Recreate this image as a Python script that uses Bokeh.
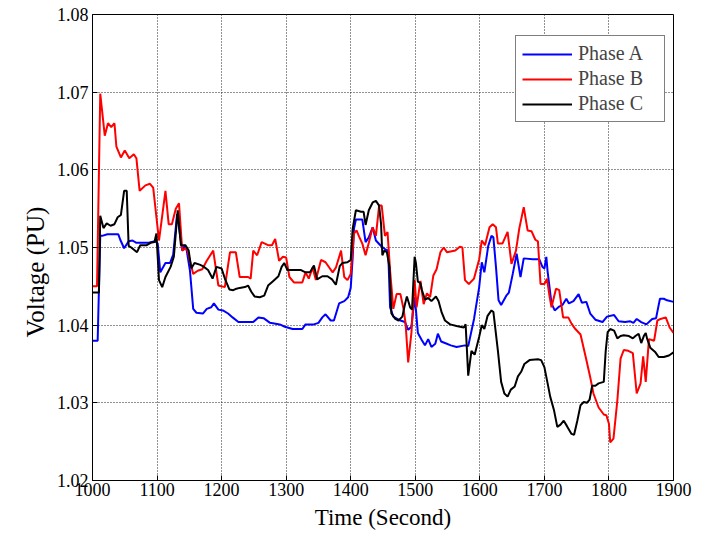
from bokeh.plotting import figure
from bokeh.models import (Range1d, FixedTicker, PrintfTickFormatter, Legend, LegendItem, Title)
from bokeh.embed import file_html
from bokeh.resources import INLINE

# ---------------- data ----------------
time_a = [1000, 1008, 1012, 1015, 1023, 1040, 1043, 1049, 1056, 1062, 1068, 1087, 1097, 1101,
          1105, 1113, 1120, 1125, 1131, 1139, 1143, 1146, 1151, 1156, 1161, 1171, 1177, 1184,
          1188, 1195, 1202, 1210, 1217, 1226, 1249, 1257, 1265, 1275, 1290, 1298, 1302, 1310,
          1325, 1330, 1343, 1350, 1356, 1361, 1369, 1374, 1382, 1390, 1396, 1400, 1403, 1405,
          1408, 1418, 1423, 1428, 1434, 1439, 1447, 1453, 1458, 1461, 1466, 1477, 1484, 1489,
          1494, 1499, 1501, 1504, 1510, 1515, 1520, 1525, 1531, 1535, 1540, 1546, 1555, 1564,
          1577, 1582, 1591, 1599, 1603, 1607, 1613, 1618, 1621, 1625, 1629, 1633, 1641, 1645,
          1651, 1657, 1663, 1668, 1682, 1692, 1697, 1700, 1703, 1705, 1711, 1716, 1723, 1728,
          1734, 1738, 1745, 1753, 1758, 1765, 1771, 1779, 1790, 1797, 1808, 1815, 1825, 1833,
          1838, 1843, 1850, 1858, 1867, 1873, 1879, 1885, 1890, 1900]
volt_a = [1.0380, 1.0380, 1.0515, 1.0515, 1.0517, 1.0517, 1.0510, 1.0499, 1.0508, 1.0509, 1.0506,
          1.0506, 1.0508, 1.0505, 1.0468, 1.0480, 1.0480, 1.0491, 1.0543, 1.0496, 1.0503, 1.0496,
          1.0470, 1.0421, 1.0416, 1.0415, 1.0421, 1.0423, 1.0428, 1.0420, 1.0419, 1.0415, 1.0410,
          1.0404, 1.0404, 1.0410, 1.0409, 1.0403, 1.0401, 1.0398, 1.0397, 1.0395, 1.0395, 1.0401,
          1.0401, 1.0403, 1.0410, 1.0414, 1.0406, 1.0406, 1.0428, 1.0431, 1.0436, 1.0448, 1.0487,
          1.0524, 1.0536, 1.0536, 1.0507, 1.0513, 1.0526, 1.0509, 1.0502, 1.0498, 1.0496, 1.0423,
          1.0411, 1.0406, 1.0404, 1.0394, 1.0398, 1.0436, 1.0420, 1.0390, 1.0381, 1.0374, 1.0382,
          1.0372, 1.0376, 1.0389, 1.0379, 1.0377, 1.0374, 1.0372, 1.0374, 1.0373, 1.0408, 1.0449,
          1.0481, 1.0468, 1.0502, 1.0515, 1.0513, 1.0475, 1.0432, 1.0426, 1.0438, 1.0442, 1.0466,
          1.0492, 1.0462, 1.0486, 1.0485, 1.0485, 1.0475, 1.0473, 1.0488, 1.0469, 1.0428, 1.0419,
          1.0424, 1.0426, 1.0434, 1.0428, 1.0431, 1.0440, 1.0429, 1.0430, 1.0415, 1.0407, 1.0404,
          1.0411, 1.0413, 1.0405, 1.0404, 1.0405, 1.0403, 1.0408, 1.0404, 1.0401, 1.0408, 1.0409,
          1.0434, 1.0434, 1.0432, 1.0430]

time_b = [1000, 1007, 1012, 1019, 1024, 1029, 1034, 1037, 1044, 1050, 1057, 1064, 1068, 1073,
          1082, 1089, 1094, 1103, 1113, 1118, 1123, 1129, 1134, 1139, 1146, 1156, 1163, 1170,
          1177, 1187, 1195, 1205, 1213, 1222, 1228, 1241, 1245, 1249, 1255, 1262, 1272, 1278,
          1283, 1289, 1295, 1300, 1305, 1312, 1325, 1330, 1335, 1341, 1346, 1354, 1361, 1372,
          1377, 1385, 1390, 1395, 1400, 1405, 1409, 1413, 1418, 1423, 1428, 1434, 1439, 1444,
          1448, 1453, 1457, 1461, 1466, 1471, 1477, 1482, 1485, 1489, 1494, 1499, 1502, 1508,
          1513, 1518, 1523, 1528, 1533, 1539, 1544, 1549, 1562, 1569, 1573, 1577, 1583, 1591,
          1599, 1603, 1608, 1615, 1620, 1625, 1628, 1635, 1643, 1649, 1656, 1661, 1668, 1674,
          1680, 1686, 1690, 1694, 1700, 1704, 1708, 1711, 1718, 1723, 1729, 1737, 1742, 1748,
          1756, 1764, 1771, 1776, 1784, 1792, 1796, 1800, 1802, 1807, 1813, 1818, 1823, 1830,
          1837, 1843, 1849, 1853, 1857, 1862, 1870, 1875, 1880, 1888, 1894, 1900]
volt_b = [1.0450, 1.0450, 1.0698, 1.0644, 1.0660, 1.0655, 1.0660, 1.0630, 1.0616, 1.0625, 1.0615,
          1.0620, 1.0615, 1.0573, 1.0580, 1.0582, 1.0577, 1.0509, 1.0573, 1.0530, 1.0530, 1.0550,
          1.0557, 1.0496, 1.0500, 1.0466, 1.0470, 1.0472, 1.0483, 1.0496, 1.0451, 1.0449, 1.0494,
          1.0494, 1.0462, 1.0462, 1.0460, 1.0496, 1.0490, 1.0507, 1.0503, 1.0503, 1.0511, 1.0483,
          1.0488, 1.0487, 1.0462, 1.0455, 1.0455, 1.0468, 1.0460, 1.0474, 1.0458, 1.0484, 1.0481,
          1.0468, 1.0474, 1.0496, 1.0462, 1.0458, 1.0466, 1.0518, 1.0522, 1.0514, 1.0505, 1.0490,
          1.0506, 1.0526, 1.0515, 1.0554, 1.0554, 1.0515, 1.0520, 1.0470, 1.0421, 1.0440, 1.0440,
          1.0420, 1.0402, 1.0352, 1.0390, 1.0458, 1.0423, 1.0457, 1.0427, 1.0441, 1.0436, 1.0464,
          1.0472, 1.0494, 1.0500, 1.0494, 1.0496, 1.0501, 1.0500, 1.0458, 1.0453, 1.0460, 1.0485,
          1.0509, 1.0503, 1.0526, 1.0530, 1.0526, 1.0505, 1.0505, 1.0520, 1.0479, 1.0496, 1.0524,
          1.0552, 1.0522, 1.0521, 1.0510, 1.0508, 1.0453, 1.0453, 1.0460, 1.0437, 1.0423, 1.0447,
          1.0445, 1.0410, 1.0410, 1.0402, 1.0395, 1.0388, 1.0359, 1.0333, 1.0312, 1.0294, 1.0285,
          1.0284, 1.0273, 1.0249, 1.0254, 1.0303, 1.0357, 1.0368, 1.0367, 1.0364, 1.0312, 1.0325,
          1.0360, 1.0327, 1.0382, 1.0380, 1.0406, 1.0408, 1.0410, 1.0397, 1.0390]

time_c = [1000, 1010, 1012, 1017, 1022, 1028, 1034, 1039, 1044, 1049, 1053, 1056, 1060, 1069,
          1074, 1084, 1090, 1096, 1099, 1103, 1108, 1113, 1121, 1126, 1132, 1137, 1144, 1149,
          1153, 1158, 1166, 1171, 1179, 1186, 1192, 1200, 1205, 1212, 1218, 1223, 1228, 1236,
          1241, 1246, 1251, 1259, 1266, 1272, 1280, 1288, 1293, 1297, 1302, 1323, 1330, 1337,
          1343, 1348, 1356, 1364, 1371, 1377, 1383, 1387, 1395, 1400, 1403, 1408, 1416, 1420,
          1423, 1428, 1434, 1439, 1444, 1447, 1449, 1452, 1456, 1460, 1463, 1469, 1474, 1480,
          1484, 1487, 1492, 1495, 1499, 1501, 1504, 1508, 1510, 1515, 1520, 1525, 1532, 1536,
          1541, 1546, 1554, 1564, 1575, 1578, 1582, 1587, 1592, 1599, 1603, 1607, 1612, 1618,
          1621, 1628, 1633, 1638, 1643, 1648, 1654, 1659, 1664, 1669, 1677, 1690, 1695, 1700,
          1705, 1709, 1715, 1720, 1725, 1730, 1735, 1742, 1746, 1751, 1756, 1761, 1766, 1770,
          1774, 1779, 1784, 1792, 1795, 1798, 1802, 1808, 1813, 1818, 1823, 1831, 1837, 1841,
          1846, 1850, 1854, 1857, 1859, 1864, 1872, 1877, 1885, 1893, 1900]
volt_c = [1.0442, 1.0442, 1.0541, 1.0525, 1.0531, 1.0528, 1.0530, 1.0539, 1.0542, 1.0573, 1.0573,
          1.0502, 1.0500, 1.0494, 1.0503, 1.0503, 1.0506, 1.0507, 1.0518, 1.0458, 1.0449, 1.0462,
          1.0475, 1.0488, 1.0548, 1.0503, 1.0503, 1.0496, 1.0473, 1.0480, 1.0478, 1.0476, 1.0471,
          1.0460, 1.0475, 1.0473, 1.0460, 1.0446, 1.0445, 1.0447, 1.0448, 1.0449, 1.0451, 1.0443,
          1.0437, 1.0436, 1.0438, 1.0451, 1.0457, 1.0463, 1.0475, 1.0480, 1.0471, 1.0471, 1.0468,
          1.0468, 1.0477, 1.0459, 1.0463, 1.0463, 1.0459, 1.0452, 1.0476, 1.0480, 1.0481, 1.0484,
          1.0524, 1.0548, 1.0546, 1.0546, 1.0529, 1.0548, 1.0558, 1.0560, 1.0554, 1.0530, 1.0490,
          1.0496, 1.0494, 1.0475, 1.0415, 1.0408, 1.0406, 1.0411, 1.0427, 1.0437, 1.0423, 1.0420,
          1.0488, 1.0480, 1.0456, 1.0454, 1.0446, 1.0433, 1.0435, 1.0431, 1.0437, 1.0431, 1.0416,
          1.0406, 1.0401, 1.0399, 1.0397, 1.0401, 1.0335, 1.0367, 1.0362, 1.0385, 1.0400, 1.0395,
          1.0412, 1.0419, 1.0417, 1.0367, 1.0327, 1.0312, 1.0308, 1.0317, 1.0321, 1.0334, 1.0340,
          1.0350, 1.0355, 1.0356, 1.0355, 1.0346, 1.0325, 1.0308, 1.0290, 1.0269, 1.0272, 1.0277,
          1.0270, 1.0260, 1.0259, 1.0277, 1.0297, 1.0301, 1.0300, 1.0304, 1.0322, 1.0322, 1.0325,
          1.0327, 1.0367, 1.0391, 1.0395, 1.0393, 1.0383, 1.0386, 1.0387, 1.0386, 1.0383, 1.0386,
          1.0389, 1.0377, 1.0386, 1.0390, 1.0383, 1.0371, 1.0365, 1.0359, 1.0359, 1.0361, 1.0365]

series_names = ["Phase A", "Phase B", "Phase C"]
series_colors = ["#0000FF", "#FF0000", "#000000"]
x_ticks = [1000, 1100, 1200, 1300, 1400, 1500, 1600, 1700, 1800, 1900]
y_ticks = [1.02, 1.03, 1.04, 1.05, 1.06, 1.07, 1.08]
x_title = "Time (Second)"
y_title = "Voltage (PU)"

FONT = "Liberation Serif"

p = figure(output_backend="svg", toolbar_location=None,
           frame_width=581, frame_height=466,
           min_border_left=92, min_border_right=27, min_border_top=14, min_border_bottom=52,
           x_range=Range1d(1000, 1900), y_range=Range1d(1.02, 1.08),
           background_fill_color="white", border_fill_color="white")

p.outline_line_color = "black"
p.outline_line_width = 1

for ax in (p.xaxis[0], p.yaxis[0]):
    ax.axis_line_color = "black"
    ax.major_tick_line_color = "black"
    ax.major_tick_in = 5
    ax.major_tick_out = 0
    ax.minor_tick_line_color = None
    ax.major_label_text_font = FONT
    ax.major_label_text_font_size = "18px"
    ax.major_label_text_color = "black"
    ax.axis_label_text_font = FONT
    ax.axis_label_text_font_style = "normal"
    ax.axis_label_text_color = "black"

p.xaxis[0].ticker = FixedTicker(ticks=x_ticks)
p.yaxis[0].ticker = FixedTicker(ticks=y_ticks)
p.yaxis[0].formatter = PrintfTickFormatter(format="%.2f")
p.xaxis[0].axis_label = x_title
p.xaxis[0].axis_label_text_font_size = "23px"
p.xaxis[0].major_label_standoff = 2
p.xaxis[0].axis_label_standoff = 6
p.yaxis[0].major_label_standoff = 4

# y-axis title as a side title, anchored from the bottom so it sits below the axis centre
p.add_layout(Title(text=y_title, align="left", offset=143, standoff=10,
                   text_font=FONT, text_font_size="25px", text_font_style="normal",
                   text_color="black"), "left")

p.xgrid[0].ticker = FixedTicker(ticks=x_ticks)
p.ygrid[0].ticker = FixedTicker(ticks=y_ticks)
for g in (p.xgrid[0], p.ygrid[0]):
    g.grid_line_color = "#222222"
    g.grid_line_dash = "1 2"
    g.grid_line_width = 1

renderers = []
for t, v, c in ((time_a, volt_a, series_colors[0]),
                (time_b, volt_b, series_colors[1]),
                (time_c, volt_c, series_colors[2])):
    renderers.append(p.line(t, v, line_color=c, line_width=2))

legend = Legend(items=[LegendItem(label=n, renderers=[r]) for n, r in zip(series_names, renderers)],
                location=(423, 358),
                label_text_font=FONT, label_text_font_size="20px",
                glyph_width=50, glyph_height=20, label_height=20, label_width=80,
                label_standoff=6, spacing=2, padding=6,
                border_line_color="black", border_line_width=1,
                background_fill_color="white", background_fill_alpha=1.0)
p.add_layout(legend)

open("out.html", "w").write(file_html(p, INLINE))
